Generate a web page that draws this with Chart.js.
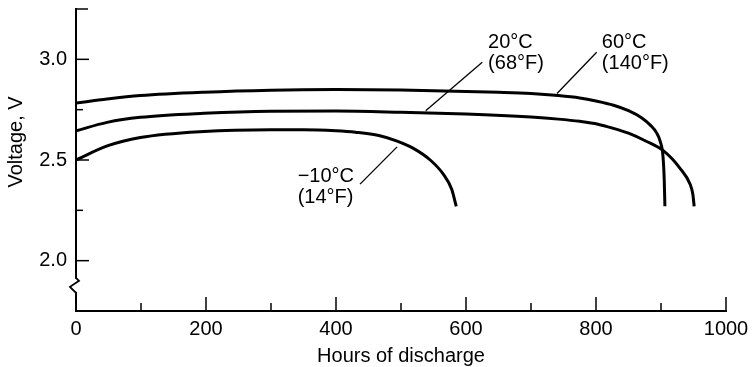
<!DOCTYPE html>
<html>
<head>
<meta charset="utf-8">
<script src="https://cdn.jsdelivr.net/npm/chart.js@4/dist/chart.umd.min.js"></script>
<style>
  html, body { margin: 0; padding: 0; background: #fff; }
  #wrap { width: 752px; height: 367px; }
</style>
</head>
<body>
<div id="wrap"><canvas id="c" width="752" height="367"></canvas></div>
<script>
'use strict';

// values (hours, volts)
var hoursHot  = [0, 48, 99, 197, 300, 400, 500, 600, 650, 700, 742, 775, 800, 827, 850, 870, 884, 893, 899, 903, 905, 906];
var voltsHot  = [2.783, 2.803, 2.82, 2.837, 2.847, 2.85, 2.848, 2.84, 2.836, 2.83, 2.82, 2.808, 2.793, 2.772, 2.745, 2.71, 2.672, 2.636, 2.59, 2.52, 2.40, 2.27];

var hoursRoom = [0, 48, 99, 197, 300, 400, 500, 600, 700, 742, 775, 803, 827, 850, 878, 904, 929, 945, 949, 951];
var voltsRoom = [2.645, 2.687, 2.712, 2.732, 2.742, 2.743, 2.737, 2.728, 2.713, 2.703, 2.692, 2.678, 2.657, 2.633, 2.592, 2.545, 2.46, 2.378, 2.33, 2.27];

var hoursCold = [0, 48, 99, 197, 300, 350, 400, 430, 466, 493, 519, 545, 565, 578, 585];
var voltsCold = [2.50, 2.57, 2.612, 2.642, 2.65, 2.65, 2.645, 2.638, 2.622, 2.595, 2.558, 2.50, 2.43, 2.355, 2.27];

var xTicks = [0, 200, 400, 600, 800, 1000];
var yTicks = [2.0, 2.5, 3.0];

// curve labels with their leader lines, in data units
var notes = [
    { lines: ['20°C', '(68°F)'],  at: [634, 3.085], from: [538, 2.745], to: [625, 2.985] },
    { lines: ['60°C', '(140°F)'], at: [809, 3.085], from: [740, 2.83],  to: [801, 3.035] },
    { lines: ['\u221210°C', '(14°F)'], at: [341, 2.42], from: [494, 2.565], to: [437, 2.38] }
];

var FONT = '"Liberation Sans", Arial, Helvetica, sans-serif';

function toPoints(xs, ys) {
    var pts = [];
    for (var i = 0; i < xs.length; i++) pts.push({ x: xs[i], y: ys[i] });
    return pts;
}

function curve(xs, ys) {
    return {
        data: toPoints(xs, ys),
        borderColor: '#000',
        borderWidth: 3,
        pointRadius: 0,
        fill: false,
        cubicInterpolationMode: 'monotone'
    };
}

// inward tick marks, axis break, curve labels, y title
var decorations = {
    id: 'decorations',
    afterDraw: function (chart) {
        var ctx = chart.ctx;
        var xs = chart.scales.x, ys = chart.scales.y;
        var area = chart.chartArea;
        ctx.save();
        ctx.strokeStyle = '#000';
        ctx.lineWidth = 1.5;

        // x ticks point up into the plot
        for (var h = 100; h <= 1000; h += 100) {
            var px = xs.getPixelForValue(h);
            var len = (h % 200 === 0) ? 14 : 8;
            ctx.beginPath();
            ctx.moveTo(px, area.bottom);
            ctx.lineTo(px, area.bottom - len);
            ctx.stroke();
        }
        // y ticks point right into the plot
        [[2.0, 13], [2.25, 7], [2.5, 13], [2.75, 7], [3.0, 13], [3.25, 12]].forEach(function (t) {
            var py = ys.getPixelForValue(t[0]);
            ctx.beginPath();
            ctx.moveTo(area.left, py);
            ctx.lineTo(area.left + t[1], py);
            ctx.stroke();
        });

        // break in the y axis below 2.0
        var yTop = ys.getPixelForValue(1.91), yBot = ys.getPixelForValue(1.845);
        ctx.fillStyle = '#fff';
        ctx.fillRect(area.left - 3, yTop, 6, yBot - yTop);
        ctx.lineWidth = 1.8;
        ctx.beginPath();
        ctx.moveTo(area.left, yTop - 1);
        ctx.lineTo(area.left + 3, yTop + 2);
        ctx.lineTo(area.left - 6, yTop + 8);
        ctx.lineTo(area.left, yBot + 1);
        ctx.stroke();

        // curve labels
        ctx.lineWidth = 1.3;
        ctx.fillStyle = '#000';
        ctx.font = '20px ' + FONT;
        ctx.textAlign = 'left';
        ctx.textBaseline = 'middle';
        notes.forEach(function (n) {
            ctx.beginPath();
            ctx.moveTo(xs.getPixelForValue(n.from[0]), ys.getPixelForValue(n.from[1]));
            ctx.lineTo(xs.getPixelForValue(n.to[0]), ys.getPixelForValue(n.to[1]));
            ctx.stroke();
            var tx = xs.getPixelForValue(n.at[0]);
            var ty = ys.getPixelForValue(n.at[1]);
            ctx.fillText(n.lines[0], tx, ty);
            ctx.fillText(n.lines[1], tx, ty + 21);
        });

        // y axis title
        ctx.translate(16, (area.top + area.bottom) / 2 - 18);
        ctx.rotate(-Math.PI / 2);
        ctx.textAlign = 'center';
        ctx.fillText('Voltage, V', 0, 0);
        ctx.restore();
    }
};

var chart = new Chart(document.getElementById('c'), {
    type: 'line',
    data: {
        datasets: [
            curve(hoursHot, voltsHot),
            curve(hoursRoom, voltsRoom),
            curve(hoursCold, voltsCold)
        ]
    },
    options: {
        responsive: false,
        animation: false,
        events: [],
        layout: { padding: { top: 9, right: 26, left: 0, bottom: 0 } },
        plugins: { legend: { display: false }, tooltip: { enabled: false } },
        scales: {
            x: {
                type: 'linear',
                min: 0,
                max: 1000,
                afterFit: function (s) {
                    s.height = 56;
                    s.paddingLeft = 0;
                    s.paddingRight = 0;
                },
                grid: { display: false, drawTicks: false },
                border: { display: true, color: '#000', width: 2 },
                afterBuildTicks: function (s) {
                    s.ticks = xTicks.map(function (v) { return { value: v }; });
                },
                ticks: {
                    color: '#000',
                    padding: 6,
                    maxRotation: 0,
                    font: { family: FONT, size: 20 },
                    callback: function (v) { return String(v); }
                },
                title: {
                    display: true,
                    text: 'Hours of discharge',
                    color: '#000',
                    padding: { top: 0, bottom: 1 },
                    font: { family: FONT, size: 20, lineHeight: 1 }
                }
            },
            y: {
                type: 'linear',
                min: 1.75,
                max: 3.25,
                afterFit: function (s) {
                    s.width = 76;
                    s.paddingTop = 0;
                    s.paddingBottom = 0;
                },
                grid: { display: false, drawTicks: false },
                border: { display: true, color: '#000', width: 2 },
                afterBuildTicks: function (s) {
                    s.ticks = yTicks.map(function (v) { return { value: v }; });
                },
                ticks: {
                    color: '#000',
                    padding: 9,
                    font: { family: FONT, size: 20 },
                    callback: function (v) { return v.toFixed(1); }
                }
            }
        }
    },
    plugins: [decorations]
});
</script>
</body>
</html>
